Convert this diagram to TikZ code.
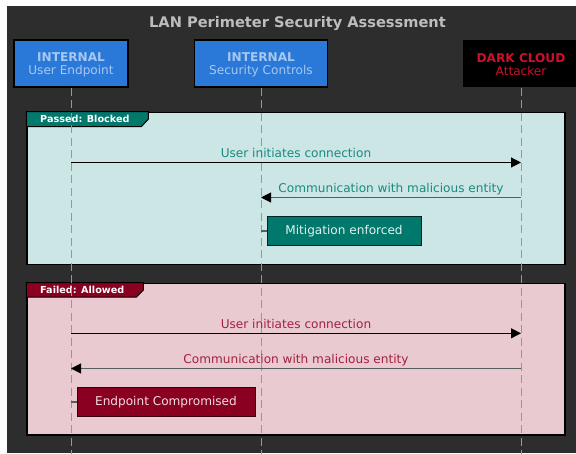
\documentclass[tikz,border=0pt]{standalone}
\usepackage{fontspec}
\setmainfont{DejaVu Sans}
\usetikzlibrary{arrows.meta}
\definecolor{darkbg}{HTML}{2D2D2D}
\definecolor{intblue}{HTML}{2A78D8}
\definecolor{inttxt}{HTML}{A6C8F2}
\definecolor{attred}{HTML}{D0102A}
\definecolor{titlegray}{HTML}{BDBDBD}
\definecolor{lifegray}{HTML}{8F9A9A}
\definecolor{gonefill}{HTML}{CCE5E5}
\definecolor{gtwofill}{HTML}{E8CAD0}
\definecolor{tealtab}{HTML}{00786C}
\definecolor{redtab}{HTML}{8A0020}
\definecolor{tealtxt}{HTML}{1A8A80}
\definecolor{redtxt}{HTML}{A3203F}
\definecolor{tealnotetxt}{HTML}{E3F1EF}
\definecolor{rednotetxt}{HTML}{F2DDE1}
\definecolor{msggray}{HTML}{555E5E}
\begin{document}
\begin{tikzpicture}[x=1pt,y=-1pt,
  part/.style={draw=black, line width=1.5pt, minimum height=47pt, inner sep=0pt},
  parttxt/.style={inner sep=0pt, align=center, font=\fontsize{12.1}{13}\selectfont, text=inttxt},
  lifeline/.style={draw=lifegray, line width=1pt, dash pattern=on 8pt off 4.5pt},
  grp/.style={draw=black, line width=1.5pt, inner sep=0pt, minimum width=538pt},
  tabshape/.style={draw=black, line width=1pt},
  tabtxt/.style={text=white, font=\fontsize{9.66}{11}\selectfont\bfseries, inner sep=0pt, anchor=base west},
  msg/.style={draw=black, line width=1pt, -{Triangle[length=10pt,width=10pt]}},
  msgback/.style={draw=msggray, line width=1pt, -{Triangle[length=10pt,width=10pt,color=black]}},
  lbl/.style={midway, anchor=base, yshift=5pt, inner sep=0pt, font=\fontsize{12.1}{13}\selectfont},
  notebox/.style={line width=1pt, inner sep=0pt, font=\fontsize{12.1}{13}\selectfont},
  conn/.style={draw=msggray, line width=1.5pt}
]
\useasboundingbox (0,0) rectangle (576,454);
\clip (0,0) rectangle (576,454);
\fill[white] (0,0) rectangle (576,454);
\fill[darkbg] (7,6) rectangle (580,452.5);

% title
\node[anchor=base, text=titlegray, font=\fontsize{14.6}{16}\selectfont\bfseries, inner sep=0pt] (title) at (297.5,27.3) {LAN Perimeter Security Assessment};

% participants
\node[part, fill=intblue, minimum width=114pt] (p1) at (71,63.5) {};
\node[parttxt] (p1t) at ([yshift=-1.3pt]p1.center) {\textbf{INTERNAL}\\User Endpoint};
\node[part, fill=intblue, minimum width=133pt] (p2) at (261,63.5) {};
\node[parttxt] (p2t) at ([yshift=-1.3pt]p2.center) {\textbf{INTERNAL}\\Security Controls};
\node[part, draw=none, fill=black, minimum width=116pt] (p3) at (521,63.5) {};
\node[parttxt, text=attred] (p3t) at ([yshift=-1.3pt]p3.center) {\textbf{DARK CLOUD}\\Attacker};

\coordinate (bot) at (0,454);

% group 1
\node[grp, fill=gonefill, minimum height=152pt] (g1) at (296,188.5) {};
\filldraw[tabshape, fill=tealtab] (g1.north west) -- ++(122,0) -- ++(0,7.5) -- ++(-7,7.5) -- ++(-115,0) -- cycle;
\node[tabtxt] (t1) at (40,122.3) {Passed: Blocked};

% group 2
\node[grp, fill=gtwofill, minimum height=151.5pt] (g2) at (296,359.25) {};
\filldraw[tabshape, fill=redtab] (g2.north west) -- ++(117,0) -- ++(0,7.5) -- ++(-7,7) -- ++(-110,0) -- cycle;
\node[tabtxt] (t2) at (40,293.3) {Failed: Allowed};

% lifelines
\draw[lifeline] (p1.south) -- (p1 |- bot);
\draw[lifeline] (p2.south) -- (p2 |- bot);
\draw[lifeline] (p3.south) -- (p3 |- bot);

% messages group 1
\coordinate (m1) at (0,162.5);
\coordinate (m2) at (0,197.5);
\draw[msg] (p1 |- m1) -- node[lbl, text=tealtxt] {User initiates connection} (p3 |- m1);
\draw[msgback] (p3 |- m2) -- node[lbl, text=tealtxt] {Communication with malicious entity} (p2 |- m2);

\node[notebox, draw=black!70!tealtab, fill=tealtab, text=tealnotetxt, minimum width=154pt, minimum height=29.5pt] (n1) at (344,230.8) {Mitigation enforced};
\draw[conn] (p2 |- n1.west) -- (n1.west);

% messages group 2
\coordinate (m3) at (0,333.3);
\coordinate (m4) at (0,368.5);
\draw[msg] (p1 |- m3) -- node[lbl, text=redtxt] {User initiates connection} (p3 |- m3);
\draw[msgback] (p3 |- m4) -- node[lbl, text=redtxt] {Communication with malicious entity} (p1 |- m4);

\node[notebox, draw=black!60!redtab, fill=redtab, text=rednotetxt, minimum width=178pt, minimum height=29.7pt] (n2) at (166,401.9) {Endpoint Compromised};
\draw[conn] (p1 |- n2.west) -- (n2.west);
\end{tikzpicture}
\end{document}
